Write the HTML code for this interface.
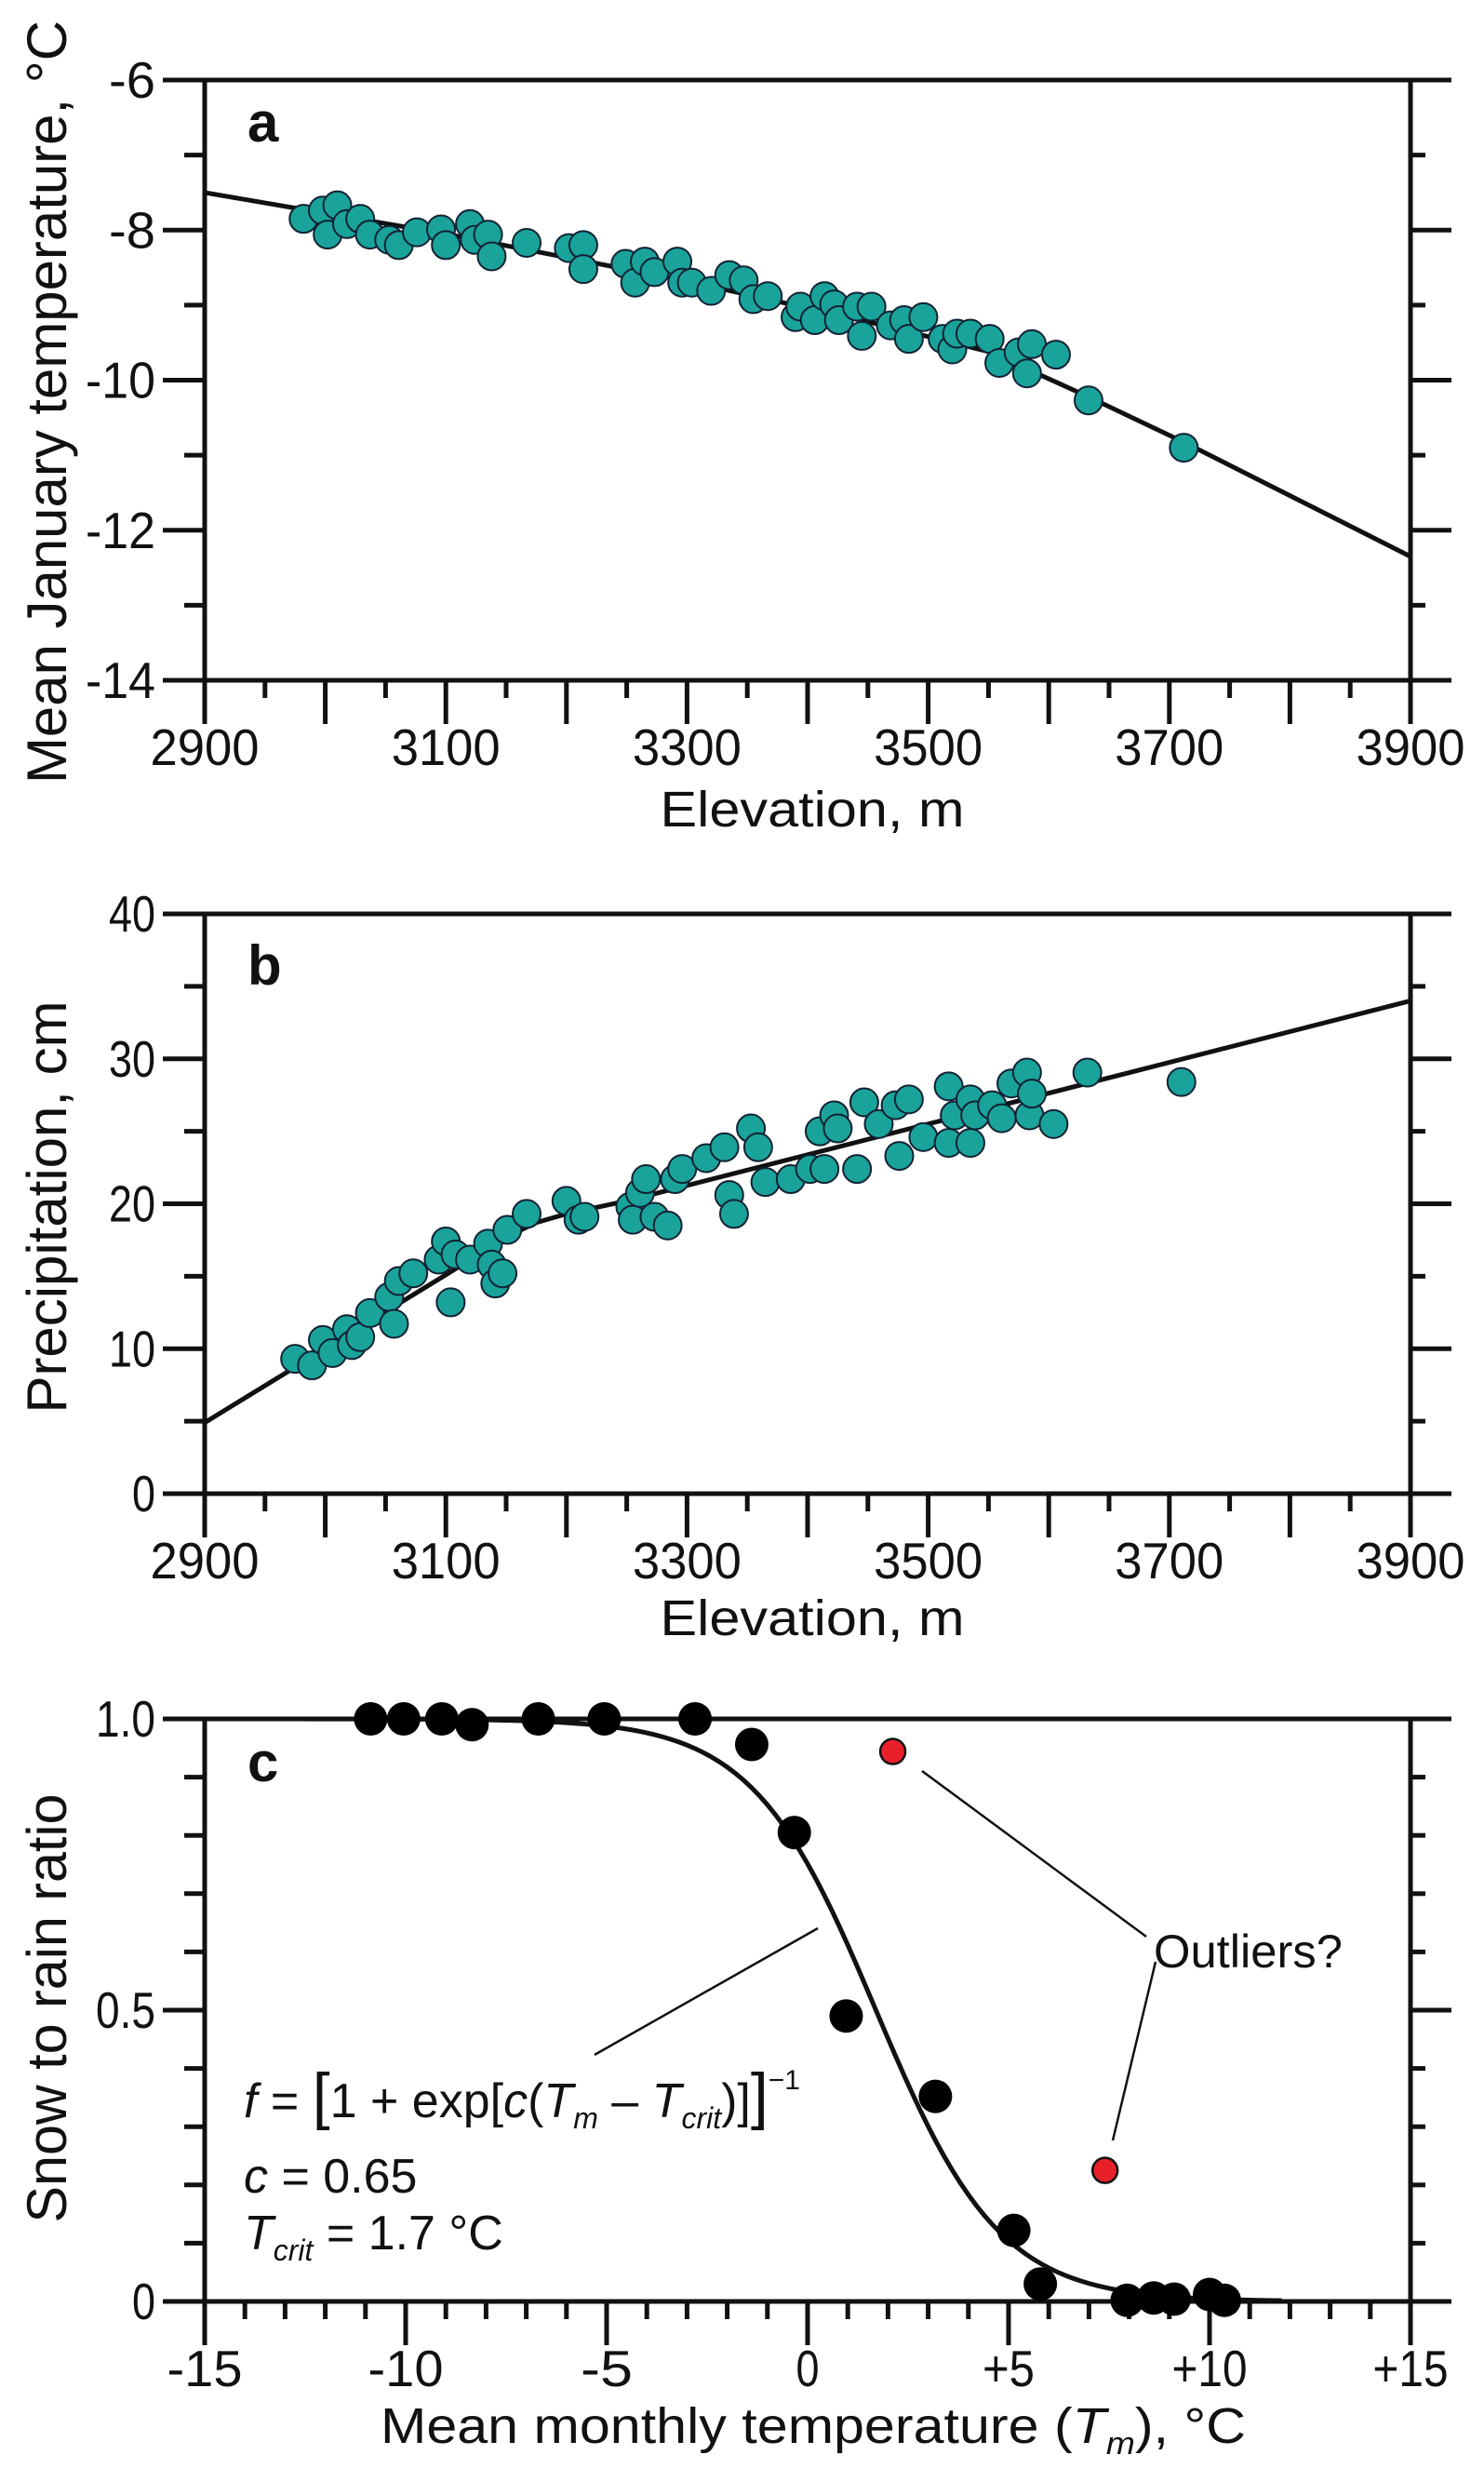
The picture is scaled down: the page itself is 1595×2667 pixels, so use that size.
<!DOCTYPE html>
<html><head><meta charset="utf-8"><style>
html,body{margin:0;padding:0;background:#fff}
svg{display:block}
text{font-family:"Liberation Sans",sans-serif;fill:#111}
</style></head><body>
<svg id="s" xmlns="http://www.w3.org/2000/svg" width="1595" height="2667" viewBox="0 0 1595 2667"></svg>
<script>
const S=document.getElementById('s');let h='';
const L=(x1,y1,x2,y2,w)=>h+=`<line x1="${x1}" y1="${y1}" x2="${x2}" y2="${y2}" stroke="#111" stroke-width="${w||5}"/>`;
const T=(x,y,t,fs,anchor,extra)=>h+=`<text x="${x}" y="${y}" font-size="${fs}" text-anchor="${anchor||'start'}" ${extra||''}>${t}</text>`;
const XL=220,XR=1516;
function frame(top,bot,yt,xt){
  L(XL,top-2.5,XL,bot+47);L(XR,top-2.5,XR,bot+47);
  L(175,top,1560,top);L(175,bot,1560,bot);
  yt.forEach(([y,maj])=>{ if(maj){L(175,y,XL,y);L(XR,y,1560,y);} else {L(198,y,XL,y);L(XR,y,1532,y);} });
  xt.forEach(([x,maj])=>{L(x,bot,x,bot+(maj?47:19));});
}
const Xa=e=>XL+(e-2900)*1.296;
const Ya=t=>86+(-6-t)*80.625;
let yt=[],xt=[];
for(let v=-6;v>=-14;v--)yt.push([Ya(v),v%2==0]);
for(let e=2900;e<=3900;e+=50)xt.push([Xa(e),e%100==0]);
frame(86,731,yt,xt);
for(let v=-6;v>=-14;v-=2)T(167,Ya(v)+19,String(v),55,'end','textLength="'+(String(v).length*25)+'" lengthAdjust="spacingAndGlyphs"');
for(let e=2900;e<=3900;e+=200)T(Xa(e),822,e,55,'middle','textLength="117" lengthAdjust="spacingAndGlyphs"');
T(873,888,'Elevation, m',54,'middle','textLength="327" lengthAdjust="spacingAndGlyphs"');
T(0,0,'Mean January temperature, °C',60,'middle','transform="translate(71,432) rotate(-90)" textLength="820" lengthAdjust="spacingAndGlyphs"');
T(266,152,'a',60,'start','font-weight="bold"');
let la=[[2900,-7.5],[3100,-8.05],[3300,-8.68],[3450,-9.22],[3550,-9.62],[3630,-10.2],[3715,-10.85],[3900,-12.35]];
h+=`<polyline fill="none" stroke="#111" stroke-width="5" points="${la.map(p=>Xa(p[0])+','+Ya(p[1])).join(' ')}"/>`;
const pa=[[2982,-7.85],[2998,-7.74],[3002,-8.06],[3010,-7.67],[3018,-7.92],[3029,-7.85],[3037,-8.06],[3053,-8.13],[3061,-8.2],[3076,-8.03],[3096,-7.99],[3100,-8.2],[3120,-7.92],[3124,-8.13],[3135,-8.06],[3138,-8.35],[3167,-8.17],[3202,-8.24],[3214,-8.2],[3214,-8.52],[3249,-8.45],[3257,-8.7],[3265,-8.42],[3273,-8.56],[3292,-8.42],[3296,-8.7],[3304,-8.7],[3320,-8.81],[3335,-8.6],[3347,-8.67],[3355,-8.92],[3367,-8.88],[3390,-9.16],[3394,-9.02],[3406,-9.2],[3414,-8.88],[3422,-8.99],[3426,-9.2],[3441,-9.02],[3445,-9.41],[3453,-9.02],[3469,-9.27],[3480,-9.2],[3484,-9.45],[3496,-9.16],[3512,-9.45],[3520,-9.59],[3524,-9.38],[3535,-9.38],[3551,-9.45],[3559,-9.77],[3575,-9.63],[3582,-9.91],[3586,-9.52],[3606,-9.66],[3633,-10.27],[3712,-10.9]];
pa.forEach(p=>h+=`<circle cx="${Xa(p[0])}" cy="${Ya(p[1])}" r="15" fill="#1aa39a" stroke="#123" stroke-width="2"/>`);
const Yb=p=>1605-p*15.575;
yt=[];xt=[];
for(let v=0;v<=40;v+=5)yt.push([Yb(v),v%10==0]);
for(let e=2900;e<=3900;e+=50)xt.push([Xa(e),e%100==0]);
frame(982,1605,yt,xt);
for(let v=0;v<=40;v+=10)T(167,Yb(v)+19,v,55,'end','textLength="'+(String(v).length*25)+'" lengthAdjust="spacingAndGlyphs"');
for(let e=2900;e<=3900;e+=200)T(Xa(e),1696,e,55,'middle','textLength="117" lengthAdjust="spacingAndGlyphs"');
T(873,1757,'Elevation, m',54,'middle','textLength="327" lengthAdjust="spacingAndGlyphs"');
T(0,0,'Precipitation, cm',60,'middle','transform="translate(71,1297) rotate(-90)" textLength="443" lengthAdjust="spacingAndGlyphs"');
T(266,1058,'b',60,'start','font-weight="bold"');
let lb=[[2900,4.9],[3100,15.1],[3150,17.7],[3175,18.7],[3200,19.3],[3250,20.2],[3900,34.0]];
h+=`<polyline fill="none" stroke="#111" stroke-width="5" points="${lb.map(p=>Xa(p[0])+','+Yb(p[1])).join(' ')}"/>`;
const pb=[[2975,9.3],[2989,8.85],[2998,10.6],[3006,9.7],[3018,11.35],[3022,10.25],[3029,10.8],[3037,12.46],[3053,13.57],[3057,11.72],[3061,14.67],[3073,15.2],[3094,16.15],[3100,17.4],[3104,13.2],[3108,16.5],[3120,16.15],[3135,17.25],[3138,15.8],[3141,14.5],[3147,15.2],[3151,18.2],[3167,19.3],[3200,20.2],[3210,18.9],[3215,19.1],[3253,19.8],[3255,18.9],[3261,20.75],[3266,21.7],[3273,19.1],[3284,18.5],[3290,21.7],[3296,22.4],[3316,23.15],[3331,23.9],[3335,20.6],[3339,19.3],[3353,25.2],[3359,23.9],[3365,21.5],[3386,21.7],[3402,22.4],[3410,25],[3414,22.4],[3422,26.1],[3425,25.2],[3441,22.4],[3447,27],[3459,25.5],[3473,26.8],[3476,23.3],[3484,27.2],[3496,24.6],[3517,28.1],[3517,24.2],[3522,26.1],[3535,27.2],[3535,24.2],[3539,26.1],[3553,26.8],[3561,25.9],[3569,28.3],[3582,29.05],[3584,26.1],[3586,27.6],[3604,25.5],[3632,29.05],[3710,28.4]];
pb.forEach(p=>h+=`<circle cx="${Xa(p[0])}" cy="${Yb(p[1])}" r="15" fill="#1aa39a" stroke="#123" stroke-width="2"/>`);
const Xc=t=>868+t*43.2;
const Yc=f=>2473-f*626;
yt=[];xt=[];
for(let v=0;v<=10;v++)yt.push([Yc(v/10),v%5==0]);
for(let t=-15;t<=15;t++)xt.push([Xc(t),t%5==0]);
frame(1847,2473,yt,xt);
[['0',0],['0.5',0.5],['1.0',1]].forEach(([s,v])=>T(167,Yc(v)+19,s,55,'end','textLength="'+(s.length==1?25:64)+'" lengthAdjust="spacingAndGlyphs"'));
[['-15',-15],['-10',-10],['-5',-5],['0',0],['+5',5],['+10',10],['+15',15]].forEach(([s,v])=>T(Xc(v),2564,s,55,'middle','textLength="'+(s.length*25+(s.length>1?6:0))+'" lengthAdjust="spacingAndGlyphs"'));
h+=`<text x="874" y="2625" font-size="54" text-anchor="middle" textLength="930" lengthAdjust="spacingAndGlyphs">Mean monthly temperature (<tspan font-style="italic">T</tspan><tspan font-style="italic" font-size="34" dy="12">m</tspan><tspan dy="-12">), °C</tspan></text>`;
T(0,0,'Snow to rain ratio',60,'middle','transform="translate(71,2158) rotate(-90)" textLength="461" lengthAdjust="spacingAndGlyphs"');
T(266,1914,'c',60,'start','font-weight="bold"');
let pc=[];for(let t=-15;t<=11.8;t+=0.2){pc.push(Xc(t)+','+Yc(1/(1+Math.exp(0.65*(t-1.7)))));}
h+=`<polyline fill="none" stroke="#111" stroke-width="5" points="${pc.join(' ')}"/>`;
L(879,2072,639,2208,2.5);L(991,1903,1232,2081,2.5);L(1242,2108,1196,2300,2.5);
h+=`<text x="1240" y="2114" font-size="50" textLength="203" lengthAdjust="spacingAndGlyphs">Outliers?</text>`;
const blk=[[-10.87,1],[-10.05,1],[-9.1,1],[-8.35,0.99],[-6.7,1],[-5.06,1],[-2.8,1],[-1.39,0.956],[-0.33,0.805],[0.96,0.49],[3.18,0.352],[5.13,0.122],[5.79,0.03],[7.95,0.002],[8.61,0.006],[9.12,0.004],[10.0,0.012],[10.37,0.002]];
blk.forEach(p=>h+=`<circle cx="${Xc(p[0])}" cy="${Yc(p[1])}" r="18" fill="#000"/>`);
[[2.12,0.944],[7.4,0.225]].forEach(p=>h+=`<circle cx="${Xc(p[0])}" cy="${Yc(p[1])}" r="13.5" fill="#e8202a" stroke="#111" stroke-width="2.5"/>`);
h+=`<text x="262" y="2275" font-size="52"><tspan font-style="italic">f</tspan> = <tspan font-size="68">[</tspan>1 + exp[<tspan font-style="italic">c</tspan>(<tspan font-style="italic">T</tspan><tspan font-style="italic" font-size="32" dy="12">m</tspan><tspan dy="-12"> – </tspan><tspan font-style="italic">T</tspan><tspan font-style="italic" font-size="32" dy="12">crit</tspan><tspan dy="-12">)]</tspan><tspan font-size="68">]</tspan><tspan font-size="30" dy="-30">−1</tspan></text>`;
h+=`<text x="262" y="2356" font-size="52"><tspan font-style="italic">c</tspan> = 0.65</text>`;
h+=`<text x="262" y="2417" font-size="52"><tspan font-style="italic">T</tspan><tspan font-style="italic" font-size="32" dy="12">crit</tspan><tspan dy="-12"> = 1.7 °C</tspan></text>`;
S.innerHTML=h;
</script>
</body></html>
